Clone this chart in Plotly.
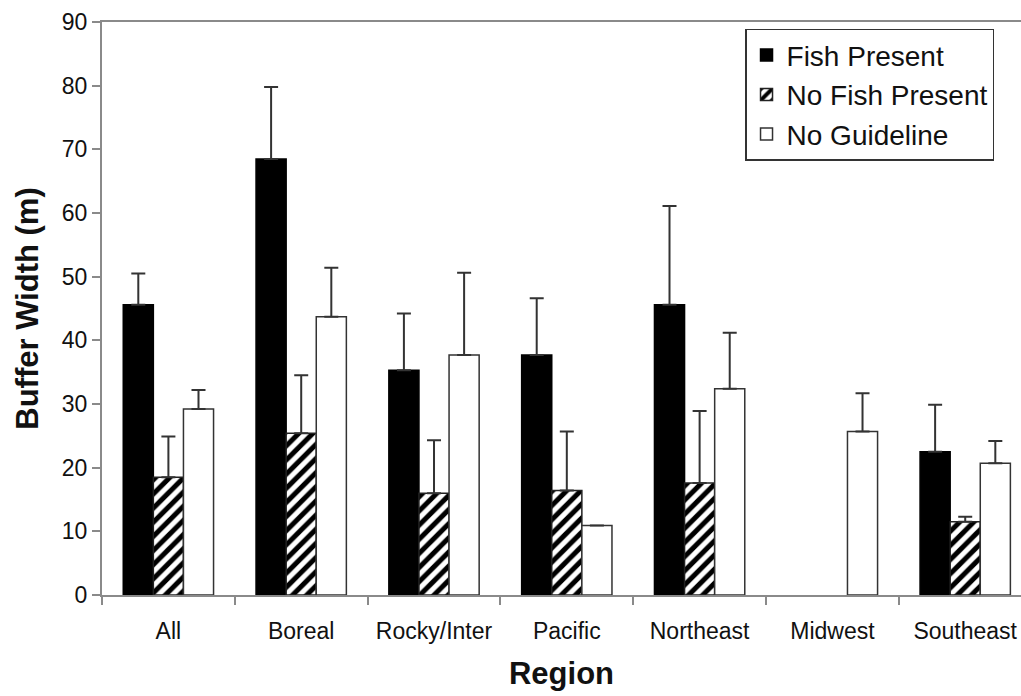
import plotly.graph_objects as go

regions = ["All", "Boreal", "Rocky/Inter", "Pacific", "Northeast", "Midwest", "Southeast"]

fish_present = [45.6, 68.5, 35.3, 37.7, 45.6, None, 22.5]
fish_present_err = [4.9, 11.3, 8.9, 8.9, 15.5, None, 7.4]

no_fish_present = [18.5, 25.4, 16.0, 16.4, 17.6, None, 11.5]
no_fish_present_err = [6.4, 9.1, 8.3, 9.3, 11.3, None, 0.8]

no_guideline = [29.2, 43.7, 37.7, 10.9, 32.4, 25.7, 20.7]
no_guideline_err = [3.0, 7.7, 12.9, None, 8.8, 6.0, 3.5]

y_ticks = [0, 10, 20, 30, 40, 50, 60, 70, 80, 90]

FONT = "Liberation Sans, Arial, sans-serif"
AXIS_GREY = "#8a8a8a"


def err(arr):
    return dict(type="data", symmetric=False, array=arr,
                arrayminus=[0 if v is not None else None for v in arr],
                color="#333333", thickness=2, width=7)


fig = go.Figure()
fig.add_trace(go.Bar(
    name="Fish Present", x=regions, y=fish_present,
    marker=dict(color="black", line=dict(color="black", width=1.5)),
    error_y=err(fish_present_err),
))
fig.add_trace(go.Bar(
    name="No Fish Present", x=regions, y=no_fish_present,
    marker=dict(color="white", line=dict(color="#222222", width=1.5),
                pattern=dict(shape="/", fgcolor="black", bgcolor="white",
                             fgopacity=1, fillmode="replace",
                             size=10, solidity=0.5)),
    error_y=err(no_fish_present_err),
))
fig.add_trace(go.Bar(
    name="No Guideline", x=regions, y=no_guideline,
    marker=dict(color="white", line=dict(color="#333333", width=1.5)),
    error_y=err(no_guideline_err),
))

fig.update_layout(
    width=1021, height=696,
    margin=dict(l=102, r=0, t=22, b=101),
    paper_bgcolor="white", plot_bgcolor="white",
    barmode="group", bargap=0.32, bargroupgap=0,
    font=dict(family=FONT, size=23, color="#111111"),
    showlegend=True,
    legend=dict(
        x=0.6997, y=0.988, xanchor="left", yanchor="top",
        bgcolor="white", bordercolor="#333333", borderwidth=1.5,
        font=dict(family=FONT, size=28, color="#111111"),
        tracegroupgap=0, itemwidth=30,
    ),
    xaxis=dict(
        range=[-0.5, 6.42],
        showline=True, linecolor=AXIS_GREY, linewidth=2, mirror=True,
        ticks="outside", tickson="boundaries", ticklen=8, tickcolor=AXIS_GREY, tickwidth=1.5,
        showgrid=False, zeroline=False,
        ticklabelstandoff=14,
        tickfont=dict(family=FONT, size=23, color="#111111"),
        title=dict(text="<b>Region</b>", font=dict(family=FONT, size=31, color="#111111"),
                   standoff=20),
    ),
    yaxis=dict(
        range=[0, 90], tickvals=y_ticks,
        showline=True, linecolor=AXIS_GREY, linewidth=2, mirror=False,
        ticks="outside", ticklen=8, tickcolor=AXIS_GREY, tickwidth=1.5,
        showgrid=False, zeroline=False,
        tickfont=dict(family=FONT, size=23, color="#111111"),
        title=dict(text="<b>Buffer Width (m)</b>", font=dict(family=FONT, size=31, color="#111111"),
                   standoff=14),
    ),
)

fig.write_html("out.html", config={"displayModeBar": False},
               post_script="document.body.style.margin='0px';")
